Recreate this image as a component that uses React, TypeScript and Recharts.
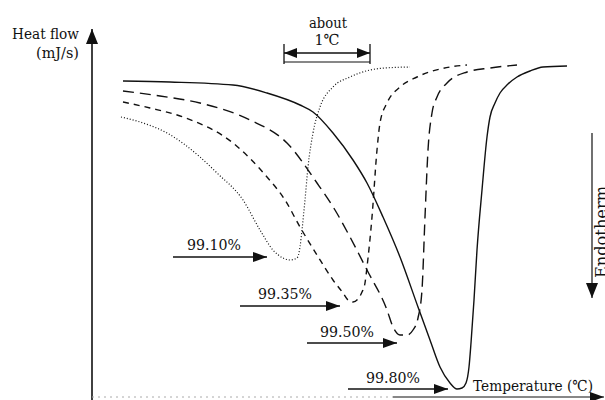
import React from "react";
import { LineChart, Line, XAxis, YAxis, ReferenceLine, ReferenceDot } from "recharts";

// Temperature position (x) and heat flow (h), per purity
const purity9980X = [123, 170, 233, 267, 300, 313, 333, 353, 367, 383, 400, 418, 430, 440, 450, 457, 462, 466, 469, 471, 474, 477, 482, 487, 490, 495, 500, 508, 517, 530, 543, 567];
const purity9980H = [319, 318, 315, 307, 295, 288, 267, 240, 217, 183, 143, 93, 60, 33, 17, 11, 12, 17, 33, 57, 100, 150, 210, 263, 283, 297, 307, 316, 323, 329, 333, 334];

const purity9950X = [123, 160, 200, 250, 287, 317, 335, 350, 367, 387, 393, 400, 407, 413, 418, 422, 425, 428, 432, 437, 447, 467, 490, 517];
const purity9950H = [309, 304, 297, 280, 257, 217, 190, 163, 130, 90, 73, 65, 65, 70, 82, 110, 183, 250, 287, 303, 317, 328, 332, 335];

const purity9935X = [123, 150, 183, 233, 267, 285, 300, 317, 333, 343, 348, 353, 358, 362, 365, 367, 372, 377, 380, 387, 400, 417, 450, 467];
const purity9935H = [298, 292, 283, 257, 223, 200, 173, 145, 120, 107, 100, 98, 101, 108, 117, 133, 183, 250, 277, 297, 313, 323, 333, 335];

const purity9910X = [121, 140, 167, 200, 217, 243, 260, 273, 283, 290, 297, 300, 302, 305, 308, 313, 320, 333, 350, 370, 385, 410];
const purity9910H = [283, 278, 267, 243, 227, 200, 170, 150, 142, 140, 142, 153, 170, 200, 233, 267, 293, 313, 323, 330, 332, 333];

const purityLabels = ["99.10%", "99.35%", "99.50%", "99.80%"];
// label anchor (text start x, baseline h) and arrow (from x, to x, h)
const labelTextX = [187, 258, 320, 366];
const labelTextH = [150, 101, 63, 17];
const labelArrowFrom = [173, 240, 307, 348];
const labelArrowTo = [267, 340, 397, 448];
const labelArrowH = [143, 94, 57, 11];

const zip = (xs: number[], hs: number[]) => xs.map((x, i) => ({ x, h: hs[i] }));

const FONT = "'DejaVu Serif', serif";
const INK = "#111";

function head(x1: number, y1: number, x2: number, y2: number, len: number, w: number) {
  const dx = x2 - x1;
  const dy = y2 - y1;
  const L = Math.sqrt(dx * dx + dy * dy) || 1;
  const ux = dx / L;
  const uy = dy / L;
  const bx = x2 - ux * len;
  const by = y2 - uy * len;
  const nx = -uy;
  const ny = ux;
  return `${x2},${y2} ${bx + nx * w},${by + ny * w} ${bx - nx * w},${by - ny * w}`;
}

const arrowShape = (len: number, w: number, both = false, color = INK, width = 1.4) => (p: any) => {
  const { x1, y1, x2, y2 } = p;
  return (
    <g>
      <line x1={x1} y1={y1} x2={x2} y2={y2} stroke={color} strokeWidth={width} />
      <polygon points={head(x1, y1, x2, y2, len, w)} fill={color} />
      {both && <polygon points={head(x2, y2, x1, y1, len, w)} fill={color} />}
    </g>
  );
};

const plainLine = (color = INK, width = 1.2, dash?: string) => (p: any) => (
  <line x1={p.x1} y1={p.y1} x2={p.x2} y2={p.y2} stroke={color} strokeWidth={width} strokeDasharray={dash} />
);

const textShape = (txt: string, anchor: "start" | "middle" | "end", width: number, size = 15, rotate = 0) => (p: any) => (
  <text
    x={p.cx}
    y={p.cy}
    textAnchor={anchor}
    fontFamily={FONT}
    fontSize={size}
    fill={INK}
    style={{ fontFamily: FONT }}
    textLength={width}
    lengthAdjust="spacingAndGlyphs"
    transform={rotate ? `rotate(${rotate}, ${p.cx}, ${p.cy})` : undefined}
  >
    {txt}
  </text>
);

export default function App() {
  return (
    <div style={{ position: "absolute", left: 0, top: 0, width: 605, height: 400, background: "#fff", overflow: "hidden" }}>
      <LineChart width={605} height={400} margin={{ top: 0, right: 0, bottom: 0, left: 0 }} style={{ overflow: "hidden" }}>
        <XAxis type="number" dataKey="x" domain={[0, 605]} allowDataOverflow hide />
        <YAxis type="number" dataKey="h" domain={[0, 400]} allowDataOverflow hide />

        <Line data={zip(purity9980X, purity9980H)} dataKey="h" type="monotone" stroke={INK} strokeWidth={1.4} dot={false} activeDot={false} isAnimationActive={false} />
        <Line data={zip(purity9950X, purity9950H)} dataKey="h" type="monotone" stroke={INK} strokeWidth={1.4} strokeDasharray="11 6" dot={false} activeDot={false} isAnimationActive={false} />
        <Line data={zip(purity9935X, purity9935H)} dataKey="h" type="monotone" stroke={INK} strokeWidth={1.4} strokeDasharray="6 5" dot={false} activeDot={false} isAnimationActive={false} />
        <Line data={zip(purity9910X, purity9910H)} dataKey="h" type="monotone" stroke={INK} strokeWidth={1.2} strokeDasharray="1 2" dot={false} activeDot={false} isAnimationActive={false} />

        {/* axes */}
        <ReferenceLine segment={[{ x: 92, y: 0 }, { x: 92, y: 371 }]} shape={arrowShape(15, 6, false, INK, 1.6)} />
        <ReferenceLine segment={[{ x: 92, y: 3 }, { x: 393, y: 3 }]} shape={plainLine("#aaa", 1, "2 4")} />
        <ReferenceLine segment={[{ x: 393, y: 3 }, { x: 604, y: 3 }]} shape={arrowShape(14, 5, false, INK, 1.2)} />
        <ReferenceLine segment={[{ x: 592, y: 267 }, { x: 592, y: 102 }]} shape={arrowShape(15, 6, false, INK, 1.2)} />

        {/* about 1 degree bracket */}
        <ReferenceLine segment={[{ x: 284, y: 347 }, { x: 370, y: 347 }]} shape={arrowShape(13, 5, true, INK, 1.4)} />
        <ReferenceLine segment={[{ x: 284, y: 356 }, { x: 284, y: 336 }]} shape={plainLine(INK, 1.3)} />
        <ReferenceLine segment={[{ x: 370, y: 356 }, { x: 370, y: 336 }]} shape={plainLine(INK, 1.3)} />
        <ReferenceLine segment={[{ x: 284, y: 338 }, { x: 370, y: 338 }]} shape={plainLine(INK, 1.2)} />

        {/* purity arrows */}
        {purityLabels.map((_, i) => (
          <ReferenceLine
            key={`a${i}`}
            segment={[{ x: labelArrowFrom[i], y: labelArrowH[i] }, { x: labelArrowTo[i], y: labelArrowH[i] }]}
            shape={arrowShape(14, 5, false, INK, 1.4)}
          />
        ))}
        {purityLabels.map((t, i) => (
          <ReferenceDot key={`t${i}`} x={labelTextX[i]} y={labelTextH[i]} r={0} shape={textShape(t, "start", 54)} />
        ))}

        {/* texts */}
        <ReferenceDot x={79} y={361} r={0} shape={textShape("Heat flow", "end", 67)} />
        <ReferenceDot x={79} y={342} r={0} shape={textShape("(mJ/s)", "end", 43)} />
        <ReferenceDot x={328} y={372} r={0} shape={textShape("about", "middle", 38, 14)} />
        <ReferenceDot x={327} y={355} r={0} shape={textShape("1℃", "middle", 25, 15)} />
        <ReferenceDot x={473} y={9} r={0} shape={textShape("Temperature (℃)", "start", 120)} />
        <ReferenceDot x={607} y={122} r={0} ifOverflow="visible" shape={textShape("Endotherm", "start", 92, 16, -90)} />
      </LineChart>
    </div>
  );
}
